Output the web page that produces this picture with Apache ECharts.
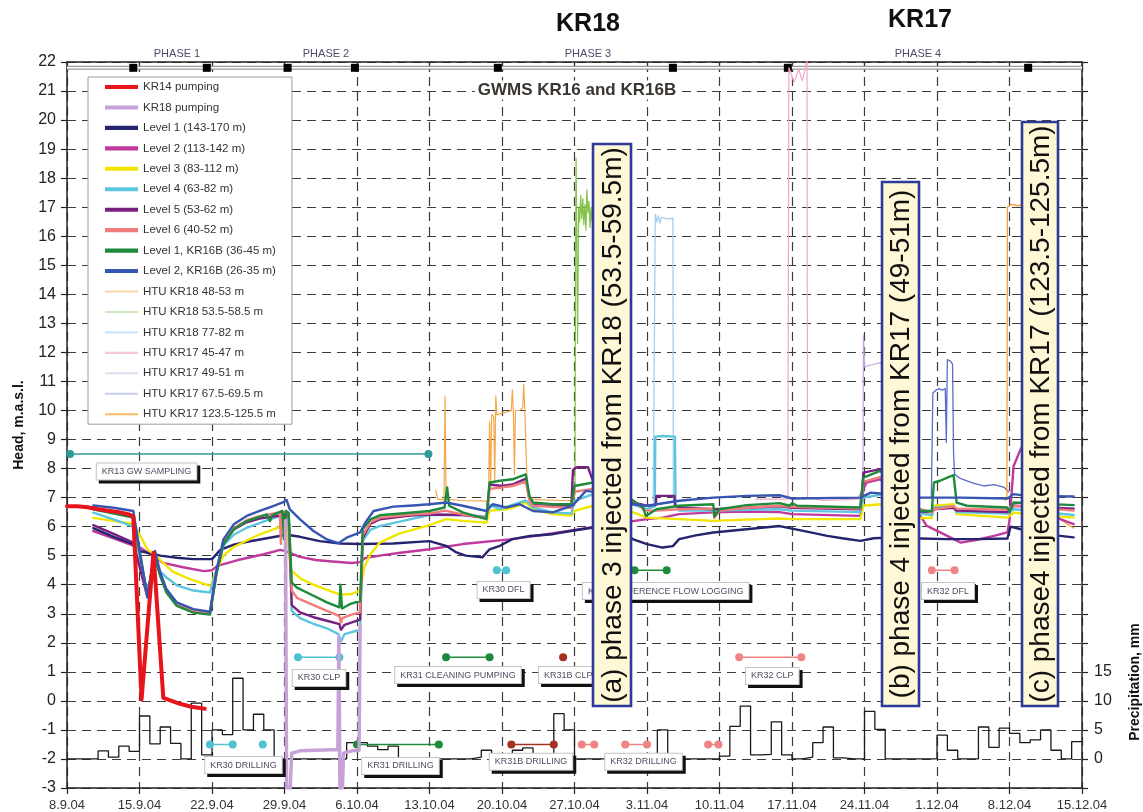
<!DOCTYPE html>
<html>
<head>
<meta charset="utf-8">
<script src="https://cdn.jsdelivr.net/npm/echarts@6/dist/echarts.min.js"></script>
<style>
html,body{margin:0;padding:0;background:#fff}
#chart{width:1143px;height:812px}
</style>
</head>
<body>
<div id="chart"></div>
<script>
// x = days since 8.9.2004, heads in m a.s.l., precipitation in mm/day

const dateTickLabels = ['8.9.04','15.9.04','22.9.04','29.9.04','6.10.04','13.10.04','20.10.04',
  '27.10.04','3.11.04','10.11.04','17.11.04','24.11.04','1.12.04','8.12.04','15.12.04'];

const precipitationLabels = [0, 5, 10, 15];

// daily precipitation (mm), day 0 .. 97
const precipitationMm = [0,0,0,1.4,0.3,2.2,1.3,7.4,2.6,5.5,2.7,0,9.6,0.7,5.0,4.2,13.9,5.0,7.7,5.0,
  0,0,0,0,0,0,0,2.8,2.8,2.2,1.6,2.2,0,0,0,0,0,0,0,0.3,1.5,0,0,1.5,1.9,0,0,7.8,5.0,0,
  0,0,0,0,0,0,0,5.0,0,0,0,0,0,0.5,5.6,9.1,0.7,0.8,6.4,0.7,0,0.3,2.8,5.5,0.2,0,0,8.2,5.1,0,
  0,0,0,0,4.1,1.5,0,0,5.5,2.0,5.3,4.4,2.8,3.3,5.0,1.5,0,3.0];

const kr14Pumping = [[0,6.7],[1,6.7],[2,6.67],[3,6.6],[4,6.55],[5,6.5],[6,6.42],[6.4,6.35],[7.2,0.05],
  [8.35,5.1],[9.3,0.1],[10.9,-0.1],[12,-0.2],[13.3,-0.27]];

const kr18Pumping = [[21.1,6.2],[21.2,-3],[21.55,-3],[21.7,-1.8],[22.5,-1.72],[24,-1.7],[25.5,-1.68],
  [26.15,-1.67],[26.25,2.2],[26.35,-3],[26.6,-3],[26.7,-1.8],[27.5,-1.72],[28.2,-1.7],[28.3,2.6]];

const level1 = [[2.54,5.95],[4.5,5.65],[6.4,5.4],[7.0,5.16],[9.0,5.0],[10.6,4.93],[12.2,4.88],[14.0,4.88],
  [14.8,5.2],[16.1,5.38],[17.4,5.48],[19.3,5.6],[21.2,5.72],[22.5,5.65],[24.4,5.5],[26.4,5.42],[28.3,5.4],
  [31.5,5.42],[35,5.5],[36.6,5.34],[37.6,5.11],[38.5,5.0],[40.1,4.94],[40.8,5.22],[41.8,5.34],[43,5.57],
  [44.7,5.68],[46.9,5.74],[48.8,5.86],[50.8,5.97],[52.7,6.03],[54,5.8],[54.6,5.57],[56,5.4],[57.5,5.28],
  [58.5,5.33],[59.1,5.57],[60.7,5.7],[62.4,5.8],[65.6,5.91],[68.8,6.02],[70,5.93],[71.8,5.8],[73.4,5.68],
  [75,5.59],[76.6,5.51],[77.9,5.6],[79.8,5.63],[82.4,5.59],[85,5.57],[87.9,5.57],[90.8,5.59],[91.1,6.0],
  [92.1,5.91],[94.3,5.75],[95.9,5.68],[97.2,5.63]];

const level2 = [[2.54,5.85],[4.5,5.6],[6.4,5.35],[7.2,5.25],[9.3,4.75],[11.2,4.6],[13.2,4.47],[14.0,4.5],
  [14.5,4.65],[16.5,4.85],[19,5.05],[20.6,5.2],[21.2,5.15],[22.4,4.97],[24,4.85],[25.6,4.8],[27.5,4.75],
  [28.3,4.78],[28.8,4.92],[30.5,5.02],[32.2,5.1],[35,5.22],[38.2,5.4],[43,5.57],[46.3,5.74],[49.5,5.91],
  [52.7,6.09],[56,6.26],[57.5,6.31],[59.1,6.43],[62.4,6.49],[65.6,6.52],[68.8,6.5],[70,6.43],[76.6,6.37],
  [76.9,7.3],[77.2,7.52],[78.5,7.63],[80.5,7.0],[82.4,6.37],[83,6.03],[84.3,5.8],[86.3,5.45],[87.9,5.55],
  [89.5,5.68],[90.8,5.8],[91.0,6.2],[91.4,8.09],[92.0,8.6],[92.4,8.9],[92.8,9.1],[93.3,8.2],[94,7.0],
  [95.9,6.26],[97.2,6.09]];

const level3 = [[2.54,6.3],[6.4,6.1],[7.2,5.6],[7.8,5.2],[8.4,5.05],[9.3,4.75],[10.2,4.45],[11.8,4.2],
  [13.9,3.95],[14.3,4.4],[15.1,5.0],[16.1,5.3],[18.5,5.72],[20.5,5.98],[21.2,6.12],[21.6,4.5],[22.6,4.2],
  [23.8,4.0],[25.1,3.82],[26.4,3.66],[27.5,3.68],[28.3,3.8],[28.7,4.6],[29.3,5.05],[30.2,5.45],[32,5.75],
  [35,6.05],[36.6,6.26],[38.2,6.2],[40.5,6.14],[40.8,6.55],[42.4,6.6],[43,6.65],[44.3,6.83],[45,6.6],
  [46.9,6.43],[48.7,6.38],[49.0,6.54],[50.8,6.72],[52.7,6.66],[54.6,6.5],[56,6.31],[59.1,6.26],[62.4,6.2],
  [65.6,6.24],[68.8,6.28],[70,6.26],[76.6,6.26],[76.9,6.72],[78.5,6.77],[80.5,6.5],[82.4,6.3],[83.5,6.3],
  [83.7,6.72],[85.6,6.77],[85.9,6.43],[90.8,6.31],[91.4,6.48],[97.2,6.31]];

const level4 = [[2.54,6.48],[4.5,6.25],[6.4,6.0],[7.4,4.2],[7.85,3.85],[8.45,4.9],[9.0,4.45],[9.6,4.25],
  [10.6,3.98],[12.2,3.8],[13.8,3.73],[14.45,4.5],[15.1,5.35],[16.1,5.72],[17.35,5.96],[19.3,6.22],
  [20.9,6.4],[21.4,6.35],[21.7,3.1],[22.5,2.85],[23.8,2.65],[25.1,2.5],[26.2,2.3],[26.45,2.05],[26.8,2.3],
  [28.3,2.45],[28.55,5.5],[29.3,5.9],[30.2,6.02],[33.1,6.25],[35,6.4],[38.2,6.4],[40.5,6.35],[40.8,6.75],
  [41.8,6.6],[44.3,6.9],[45,6.66],[46.9,6.49],[48.7,6.45],[49.0,6.89],[50.8,7.12],[52.7,7.06],[54.6,6.77],
  [56,6.6],[56.75,6.7],[56.8,9.1],[57.5,9.12],[58.7,9.1],[58.75,6.8],[59.1,6.55],[62.4,6.55],[65.6,6.58],
  [68.8,6.6],[70,6.55],[76.6,6.5],[76.9,7.0],[78.5,7.1],[80.5,6.9],[82.4,6.45],[83.5,6.4],[83.7,6.65],
  [85.6,6.7],[85.9,6.5],[90.8,6.45],[91.4,6.6],[97.2,6.4]];

const level5 = [[2.54,6.05],[4.5,5.75],[6.4,5.45],[7.76,3.58],[8.45,5.0],[9.0,4.35],[9.6,3.78],[10.6,3.32],
  [12.2,3.08],[13.8,3.0],[14.45,4.45],[15.1,5.4],[16.1,5.9],[17.35,6.15],[18.6,6.28],[20.9,6.4],[21.4,6.38],
  [21.7,3.3],[22.5,3.05],[23.8,2.88],[25.1,2.76],[26.3,2.64],[26.45,2.45],[26.8,2.62],[28.3,2.8],[28.55,5.6],
  [29.3,6.1],[30.2,6.25],[33.1,6.38],[35,6.42],[38.2,6.4],[40.5,6.3],[40.8,7.45],[42,7.4],[43,7.45],
  [44.3,7.65],[44.65,6.95],[45,6.75],[46.9,6.7],[48.7,6.7],[48.85,7.95],[49.2,8.05],[50.3,8.05],[50.8,7.55],
  [52.7,7.29],[54.6,6.83],[56.0,6.72],[56.85,6.75],[56.9,7.06],[58.65,7.06],[58.7,6.72],[59.1,6.66],
  [62.4,6.6],[65.6,6.65],[68.8,6.7],[70,6.65],[76.6,6.6],[76.9,7.86],[78.5,7.98],[80.5,7.2],[82.4,6.52],
  [83.5,6.5],[83.7,6.6],[85.6,6.65],[85.9,6.55],[90.8,6.5],[91.4,6.72],[97.2,6.62]];

const level6 = [[2.54,6.62],[4.5,6.5],[6.4,6.38],[7.76,3.6],[8.45,5.05],[9.0,4.35],[9.6,3.8],[10.6,3.32],
  [12.2,3.1],[13.8,3.02],[14.45,4.45],[15.1,5.45],[16.1,5.95],[17.35,6.22],[18.6,6.36],[19.9,6.45],
  [20.55,6.5],[20.65,5.4],[20.75,6.5],[21.1,6.52],[21.4,6.45],[21.7,3.8],[22.2,3.55],[23.8,3.3],[25.1,3.1],
  [26.3,2.92],[26.45,2.7],[26.6,2.85],[27.3,2.95],[28.3,3.05],[28.55,5.7],[29.3,6.15],[30.2,6.3],[33.1,6.42],
  [35,6.45],[36.5,6.55],[38.2,6.42],[40.5,6.3],[40.8,7.3],[42,7.35],[43,7.4],[44.3,7.55],[44.65,6.9],[45,6.72],
  [46.9,6.68],[48.7,6.65],[49.0,7.2],[50.8,7.3],[52.7,7.17],[54.6,6.9],[55.9,6.55],[56.9,6.55],[59.1,6.6],
  [62.4,6.62],[62.5,6.3],[63,6.55],[65.6,6.65],[68.8,6.72],[70,6.68],[76.6,6.62],[76.9,7.55],[78.5,7.7],
  [80.5,7.2],[82.4,6.6],[83.5,6.5],[83.7,6.6],[85.6,6.7],[85.9,6.62],[90.8,6.58],[91.4,6.72],[97.2,6.55]];

const level1KR16B = [[2.54,6.6],[6.4,6.31],[7.76,3.62],[8.43,4.99],[9.0,4.3],[9.6,3.73],[10.6,3.27],[12.2,3.04],
  [13.8,2.97],[14.45,4.42],[15.1,5.39],[16.1,5.91],[17.35,6.19],[18.6,6.34],[19.3,6.42],[19.6,6.19],[19.8,6.39],
  [20.8,6.54],[20.95,5.56],[21.15,6.54],[21.4,6.48],[21.7,4.07],[22.2,3.9],[23.8,3.62],[25.1,3.39],[26.3,3.22],
  [26.4,4.0],[26.55,3.18],[27.3,3.33],[28.3,3.44],[28.55,5.91],[29.3,6.25],[30.2,6.39],[33.1,6.48],[35,6.54],
  [36.45,6.66],[36.7,7.35],[36.9,6.72],[38.2,6.49],[40.5,6.26],[40.8,7.52],[41.8,7.58],[43.0,7.63],[44.3,7.8],
  [44.65,7.06],[45.0,6.83],[46.9,6.77],[48.7,6.77],[49.0,7.4],[50.8,7.52],[52.7,7.35],[54.0,7.06],[55.6,6.66],
  [55.9,6.37],[56.9,6.6],[59.1,6.72],[62.4,6.77],[62.5,6.35],[63.0,6.6],[65.6,6.74],[68.8,6.81],[69.8,6.72],
  [70,6.81],[70.5,6.72],[76.6,6.66],[76.9,7.69],[78.5,7.92],[80.5,7.3],[82.4,6.54],[83.5,6.54],[83.7,7.52],
  [84.3,7.58],[85,7.69],[85.6,7.77],[85.9,6.83],[86.9,6.72],[90.8,6.66],[91.0,6.51],[91.4,6.83],[97.2,6.74]];

const level2KR16B = [[2.54,6.73],[4.5,6.65],[6.4,6.54],[7.76,3.56],[8.5,5.16],[9.0,4.42],[9.6,3.85],[10.6,3.39],
  [12.2,3.16],[13.8,3.07],[14.45,4.53],[15.1,5.56],[16.1,6.08],[17.35,6.37],[18.6,6.54],[19.9,6.71],[20.95,6.85],
  [21.2,6.92],[21.5,6.6],[22.5,6.25],[23.8,5.85],[25.1,5.56],[26.2,5.43],[27.0,5.62],[28.3,5.8],[28.8,6.14],
  [29.6,6.54],[31.5,6.69],[33.4,6.73],[35,6.77],[36.6,6.83],[38.2,6.72],[40.5,6.54],[41.1,6.77],[42.4,6.66],
  [43.7,6.77],[45.0,6.54],[46.9,6.49],[48.8,6.72],[50.1,7.23],[51.4,7.17],[52.7,6.94],[54.6,6.77],[56.0,6.72],
  [59.1,6.89],[62.4,7.0],[65.6,7.06],[68.8,7.08],[70,6.97],[76.6,7.0],[77.6,7.17],[80,7.1],[82.4,7.0],
  [86.3,7.0],[90.8,6.97],[91.4,7.12],[92.7,7.06],[97.2,7.04]];

const htuKR18_48_53 = [[35.6,7.25],[35.8,6.95],[36.4,6.92],[36.5,10.5],[36.6,6.95],[38,6.9],[40.7,6.88],
  [40.8,9.6],[40.9,7.4],[41.0,9.85],[41.2,9.8],[41.3,7.6],[41.4,10.5],[41.5,9.85],[42.0,9.9],[42.5,9.95],
  [42.9,10.0],[43.0,10.7],[43.1,9.95],[43.2,7.8],[43.3,10.0],[43.7,10.0],[44.0,10.1],[44.1,10.9],[44.2,10.0],
  [44.35,10.05],[44.45,7.2],[44.7,6.95],[46,6.92],[47.5,6.9],[48.7,6.9]];

const htuKR18_53_58 = [[48.8,6.95],[49.05,7.1],[49.1,15.0],[49.15,18.7],[49.2,16.9],[49.3,12.3],[49.4,17.0],
  [49.5,16.5],[49.6,17.4],[49.7,16.6],[49.8,17.3],[49.9,16.4],[50.0,17.1],[50.1,16.2],[50.2,17.6],[50.3,16.8],
  [50.4,17.2],[50.5,16.3],[50.6,17.0],[50.7,16.5],[50.8,17.2],[50.9,15.5],[51.0,17.0],[51.1,16.4],[51.2,16.9],
  [51.3,16.5],[51.35,7.3],[52.5,7.2],[54.5,7.1]];

const htuKR18_77_82 = [[56.6,6.9],[56.75,6.95],[56.8,16.75],[56.95,16.5],[57.1,16.7],[57.25,16.45],[57.4,16.65],
  [58.0,16.6],[58.5,16.62],[58.55,6.9],[58.9,6.85]];

const htuKR17_45_47 = [[66.5,6.95],[69.6,6.95],[69.7,21.8],[70.2,21.3],[70.65,21.75],[71.0,21.35],[71.35,21.9],
  [71.45,22.2],[71.5,7.0],[73,6.9],[76.6,6.95]];

const htuKR17_49_51 = [[76.4,7.0],[76.85,7.3],[76.9,12.6],[77.0,11.5],[77.4,11.55],[78.0,11.6],[78.6,11.65],
  [79.0,11.6],[79.2,8.0],[80,7.5],[81,7.2]];

const htuKR17_67_69 = [[83.45,7.0],[83.6,10.6],[83.9,10.7],[84.2,10.75],[84.5,10.7],[84.8,10.75],[84.9,8.9],
  [85.0,11.75],[85.3,11.7],[85.5,11.6],[85.6,8.5],[85.7,7.8],[86.3,7.65],[87.5,7.5],[88.5,7.4],[89.5,7.45],
  [90.5,7.35],[90.9,7.2]];

const htuKR17_123_125 = [[90.6,6.9],[90.75,7.0],[90.8,17.0],[91.2,17.1],[91.8,17.05],[92.4,17.1],[92.9,17.1],
  [93.2,9.5],[94,8],[95.3,7.2],[95.8,6.3],[96.5,6.1],[97.2,5.95]];

// field activities: head level of the marker row and day spans (dots at both ends)
const fieldEvents = [
  {label: 'KR13 GW SAMPLING', head: 8.5, spans: [[0.3, 34.9]]},
  {label: 'KR30 DRILLING', head: -1.5, spans: [[13.8, 16.0], [18.9]]},
  {label: 'KR30 CLP', head: 1.5, spans: [[22.3, 26.3]]},
  {label: 'KR31 DRILLING', head: -1.5, spans: [[28.0, 35.9]]},
  {label: 'KR31 CLEANING PUMPING', head: 1.5, spans: [[36.6, 40.8]]},
  {label: 'KR30 DFL', head: 4.5, spans: [[41.5, 42.4]]},
  {label: 'KR31B DRILLING', head: -1.5, spans: [[42.9, 47.0]]},
  {label: 'KR31B CLP', head: 1.5, spans: [[47.9]]},
  {label: 'KR32 DRILLING', head: -1.5, spans: [[49.7, 50.9], [53.9, 56.0], [61.9, 62.9]]},
  {label: 'KR31 DIFFERENCE FLOW LOGGING', head: 4.5, spans: [[54.8, 57.9]]},
  {label: 'KR32 CLP', head: 1.5, spans: [[64.9, 70.9]]},
  {label: 'KR32 DFL', head: 4.5, spans: [[83.5, 85.7]]}
];

const phaseBoundaries = [6.4, 13.5, 21.3, 27.8, 41.6, 58.5, 69.6, 92.8];
const phaseNames = ['PHASE 1', 'PHASE 2', 'PHASE 3', 'PHASE 4'];

const injectionNotes = [
  '(a) phase 3 injected from KR18 (53.5-59.5m)',
  '(b) phase 4 injected from KR17 (49-51m)',
  '(c) phase4 injected from KR17 (123.5-125.5m)'
];

// ---------- styling & layout ----------
const FONT = "'Liberation Sans', Arial, sans-serif";

const eventColors = {
  'KR13 GW SAMPLING': '#2E9B9B', 'KR30 DRILLING': '#4FC2D2', 'KR30 CLP': '#4FC2D2',
  'KR31 DRILLING': '#1F8B3A', 'KR31 CLEANING PUMPING': '#1F8B3A', 'KR30 DFL': '#4FC2D2',
  'KR31B DRILLING': '#A2311F', 'KR31B CLP': '#A2311F', 'KR32 DRILLING': '#F08383',
  'KR31 DIFFERENCE FLOW LOGGING': '#1F8B3A', 'KR32 CLP': '#F08383', 'KR32 DFL': '#F08383'
};
// label box centres (day, head)
const eventLabelAnchors = {
  'KR13 GW SAMPLING': [7.68, 7.9], 'KR30 DRILLING': [17.04, -2.21], 'KR30 CLP': [24.33, 0.79],
  'KR31 DRILLING': [32.2, -2.24], 'KR31 CLEANING PUMPING': [37.75, 0.89], 'KR30 DFL': [42.15, 3.82],
  'KR31B DRILLING': [44.8, -2.1], 'KR31B CLP': [48.4, 0.89], 'KR32 DRILLING': [55.66, -2.1],
  'KR31 DIFFERENCE FLOW LOGGING': [57.8, 3.78], 'KR32 CLP': [68.1, 0.86], 'KR32 DFL': [85.06, 3.78]
};

// name, data, plot colour, legend colour, width; listed in drawing order
const lineDefs = [
  ['HTU KR18 48-53 m', htuKR18_48_53, '#F6A748', '#FAD5A8', 1.2],
  ['HTU KR18 53.5-58.5 m', htuKR18_53_58, '#84C24A', '#CFE8BC', 1.2],
  ['HTU KR18 77-82 m', htuKR18_77_82, '#A4D0F2', '#CDE4F8', 1.3],
  ['HTU KR17 45-47 m', htuKR17_45_47, '#F2A6CB', '#F6C6DD', 1.2],
  ['HTU KR17 49-51 m', htuKR17_49_51, '#C4A3DA', '#E6DAF0', 1.2],
  ['HTU KR17 67.5-69.5 m', htuKR17_67_69, '#5A6EC6', '#C9CEEE', 1.3],
  ['HTU KR17 123.5-125.5 m', htuKR17_123_125, '#F6A030', '#F8BC68', 1.3],
  ['Level 2 (113-142 m)', level2, '#BF3A9C', null, 2.4],
  ['Level 1 (143-170 m)', level1, '#24246F', null, 2.4],
  ['Level 3 (83-112 m)', level3, '#F2E500', null, 2.4],
  ['Level 4 (63-82 m)', level4, '#5DC6DF', null, 2.4],
  ['Level 5 (53-62 m)', level5, '#7A1F82', null, 2.4],
  ['Level 6 (40-52 m)', level6, '#F27B7B', null, 2.4],
  ['Level 1, KR16B (36-45 m)', level1KR16B, '#1D8B3B', null, 2.4],
  ['Level 2, KR16B (26-35 m)', level2KR16B, '#3656B1', null, 2.4],
  ['KR18 pumping', kr18Pumping, '#C7A2D9', null, 3.5],
  ['KR14 pumping', kr14Pumping, '#E8141B', null, 4]
];

const legendOrder = ['KR14 pumping', 'KR18 pumping', 'Level 1 (143-170 m)', 'Level 2 (113-142 m)',
  'Level 3 (83-112 m)', 'Level 4 (63-82 m)', 'Level 5 (53-62 m)', 'Level 6 (40-52 m)',
  'Level 1, KR16B (36-45 m)', 'Level 2, KR16B (26-35 m)', 'HTU KR18 48-53 m', 'HTU KR18 53.5-58.5 m',
  'HTU KR18 77-82 m', 'HTU KR17 45-47 m', 'HTU KR17 49-51 m', 'HTU KR17 67.5-69.5 m', 'HTU KR17 123.5-125.5 m'];

const series = [];

// precipitation steps on the right-hand axis
const precipData = precipitationMm.map((v, i) => [i, v]);
precipData.push([precipitationMm.length, precipitationMm[precipitationMm.length - 1]]);
series.push({
  type: 'line', name: 'Precipitation', yAxisIndex: 1, step: 'end', data: precipData,
  symbol: 'none', lineStyle: {color: '#1a1a1a', width: 1.3}, z: 2, silent: true
});

// phase bar along the top edge
series.push({
  type: 'line', data: [[0, 21.8], [98, 21.8]], symbol: 'none', silent: true, z: 3,
  lineStyle: {color: '#9a9a9a', width: 4}
});
series.push({
  type: 'line', data: [[0, 21.8], [98, 21.8]], symbol: 'none', silent: true, z: 3,
  lineStyle: {color: '#ffffff', width: 1.4}
});
series.push({
  type: 'scatter', data: phaseBoundaries.map(d => [d, 21.8]), symbol: 'rect', symbolSize: 8,
  itemStyle: {color: '#000', opacity: 1}, silent: true, z: 4
});

// activity markers
fieldEvents.forEach(ev => {
  ev.spans.forEach(span => {
    series.push({
      type: 'line', data: span.map(d => [d, ev.head]), symbol: 'circle', symbolSize: 8, showSymbol: true,
      lineStyle: {color: eventColors[ev.label], width: 1.6}, itemStyle: {color: eventColors[ev.label]},
      silent: true, z: 3
    });
  });
});

// head series
lineDefs.forEach(([name, data, color, legendColor, width]) => {
  series.push({
    type: 'line', name: name, data: data, symbol: 'none', showSymbol: false, clip: true,
    color: color, lineStyle: {color: color, width: width, join: 'round', cap: 'round'}, z: 5
  });
});

// activity label boxes: a dark copy offset down-right acts as the drop shadow
const labelBox = {
  show: true, position: 'inside', formatter: p => p.name, fontFamily: FONT, fontSize: 9,
  padding: [4, 5, 3, 5], borderWidth: 1, opacity: 1
};
series.push({
  type: 'scatter', symbolSize: 1, itemStyle: {color: 'rgba(0,0,0,0)', opacity: 1}, silent: true, z: 7,
  data: fieldEvents.map(ev => ({name: ev.label, value: eventLabelAnchors[ev.label]})),
  label: Object.assign({}, labelBox, {offset: [3, 3], color: 'rgba(0,0,0,0)',
    backgroundColor: '#111', borderColor: '#111'})
});
series.push({
  type: 'scatter', symbolSize: 1, itemStyle: {color: 'rgba(0,0,0,0)', opacity: 1}, silent: true, z: 8,
  data: fieldEvents.map(ev => ({name: ev.label, value: eventLabelAnchors[ev.label]})),
  label: Object.assign({}, labelBox, {color: '#4e4e62', backgroundColor: '#ffffff', borderColor: '#c4c4c4'})
});

const legendStyle = {};
lineDefs.forEach(([name, , color, legendColor, width]) => {
  legendStyle[name] = {color: legendColor || color, thick: width > 2};
});

const graphic = [
  {type: 'text', x: 588, y: 24, z: 100, style: {text: 'KR18', font: `bold 25px ${FONT}`, fill: '#111',
    align: 'center', verticalAlign: 'middle', textAlign: 'center', textVerticalAlign: 'middle'}},
  {type: 'text', x: 920, y: 20, z: 100, style: {text: 'KR17', font: `bold 25px ${FONT}`, fill: '#111',
    align: 'center', verticalAlign: 'middle', textAlign: 'center', textVerticalAlign: 'middle'}},
  {type: 'text', x: 577, y: 90, z: 100, style: {text: 'GWMS KR16 and KR16B', font: `bold 17px ${FONT}`,
    fill: '#3a3531', backgroundColor: '#fff', padding: [1, 3],
    align: 'center', verticalAlign: 'middle', textAlign: 'center', textVerticalAlign: 'middle'}},
  {type: 'text', x: 19, y: 425, rotation: Math.PI / 2, z: 100, style: {text: 'Head, m.a.s.l.',
    font: `bold 14px ${FONT}`, fill: '#111', align: 'center', verticalAlign: 'middle',
    textAlign: 'center', textVerticalAlign: 'middle'}},
  {type: 'text', x: 1135, y: 682, rotation: Math.PI / 2, z: 100, style: {text: 'Precipitation, mm',
    font: `bold 14px ${FONT}`, fill: '#111', align: 'center', verticalAlign: 'middle',
    textAlign: 'center', textVerticalAlign: 'middle'}}
];

const phaseLabelX = [177, 326, 588, 918];
phaseNames.forEach((t, i) => {
  graphic.push({type: 'text', x: phaseLabelX[i], y: 54, z: 100, style: {text: t, font: `11px ${FONT}`,
    fill: '#4c4c6a', align: 'center', verticalAlign: 'middle', textAlign: 'center', textVerticalAlign: 'middle'}});
});

const noteBoxes = [[593, 144, 38, 562], [882, 182, 37, 524], [1022, 122, 36, 584]];
injectionNotes.forEach((t, i) => {
  const [bx, by, bw, bh] = noteBoxes[i];
  graphic.push({type: 'rect', z: 110, shape: {x: bx, y: by, width: bw, height: bh},
    style: {fill: '#FFF8D6', stroke: '#2D3A98', lineWidth: 2.6}});
  graphic.push({type: 'text', z: 111, x: bx + bw / 2 + 1, y: by + bh / 2, rotation: Math.PI / 2,
    style: {text: t, font: `28px ${FONT}`, fill: '#111', align: 'center', verticalAlign: 'middle',
      textAlign: 'center', textVerticalAlign: 'middle'}});
});

const gridDash = {type: [9, 6], color: '#3c3c3c', width: 1.2};

const option = {
  animation: false,
  backgroundColor: '#ffffff',
  grid: {left: 67, right: 61, top: 62, bottom: 24, containLabel: false, outerBoundsMode: 'none'},
  xAxis: [
    {type: 'value', min: 0, max: 98, interval: 7, position: 'bottom',
      axisLine: {show: true, onZero: false, lineStyle: {color: '#222', width: 1.5}},
      axisTick: {show: true, length: 6, lineStyle: {color: '#222', width: 1.2}},
      axisLabel: {formatter: v => dateTickLabels[Math.round(v / 7)] || '', fontFamily: FONT, fontSize: 13,
        color: '#333', margin: 11},
      splitLine: {show: true, lineStyle: gridDash}},
    {type: 'value', min: 0, max: 98, interval: 7, position: 'top',
      axisLine: {show: true, onZero: false, lineStyle: {color: '#222', width: 1.5}},
      axisTick: {show: true, inside: true, length: 10, lineStyle: {color: '#333', width: 1.2}},
      axisLabel: {show: false}, splitLine: {show: false}}
  ],
  yAxis: [
    {type: 'value', min: -3, max: 22, interval: 1, position: 'left',
      axisLine: {show: true, onZero: false, lineStyle: {color: '#222', width: 1.5}},
      axisTick: {show: true, length: 6, lineStyle: {color: '#222', width: 1.2}},
      axisLabel: {fontFamily: FONT, fontSize: 16, color: '#222', margin: 11},
      splitLine: {show: true, lineStyle: gridDash}},
    {type: 'value', min: -5, max: 120, interval: 5, position: 'right',
      axisLine: {show: true, onZero: false, lineStyle: {color: '#222', width: 1.5}},
      axisTick: {show: true, length: 6, lineStyle: {color: '#222', width: 1.2}},
      axisLabel: {fontFamily: FONT, fontSize: 16, color: '#222', margin: 12,
        formatter: v => precipitationLabels.indexOf(v) >= 0 ? String(v) : ''},
      splitLine: {show: false}}
  ],
  legend: {
    orient: 'vertical', left: 88, top: 77, padding: [4, 16, 4, 17],
    itemWidth: 33, itemHeight: 12, itemGap: 8.45,
    backgroundColor: '#ffffff', borderColor: '#9c9c9c', borderWidth: 1,
    textStyle: {fontFamily: FONT, fontSize: 11.5, color: '#333'},
    itemStyle: {borderWidth: 0}, selectedMode: false, z: 20,
    data: legendOrder.map(n => ({
      name: n,
      icon: legendStyle[n].thick ? 'path://M0,0H40V5H0Z' : 'path://M0,0H40V2.6H0Z',
      itemStyle: {color: legendStyle[n].color, borderWidth: 0}
    }))
  },
  graphic: graphic,
  series: series
};

const chart = echarts.init(document.getElementById('chart'));
chart.setOption(option);
</script>
</body>
</html>
